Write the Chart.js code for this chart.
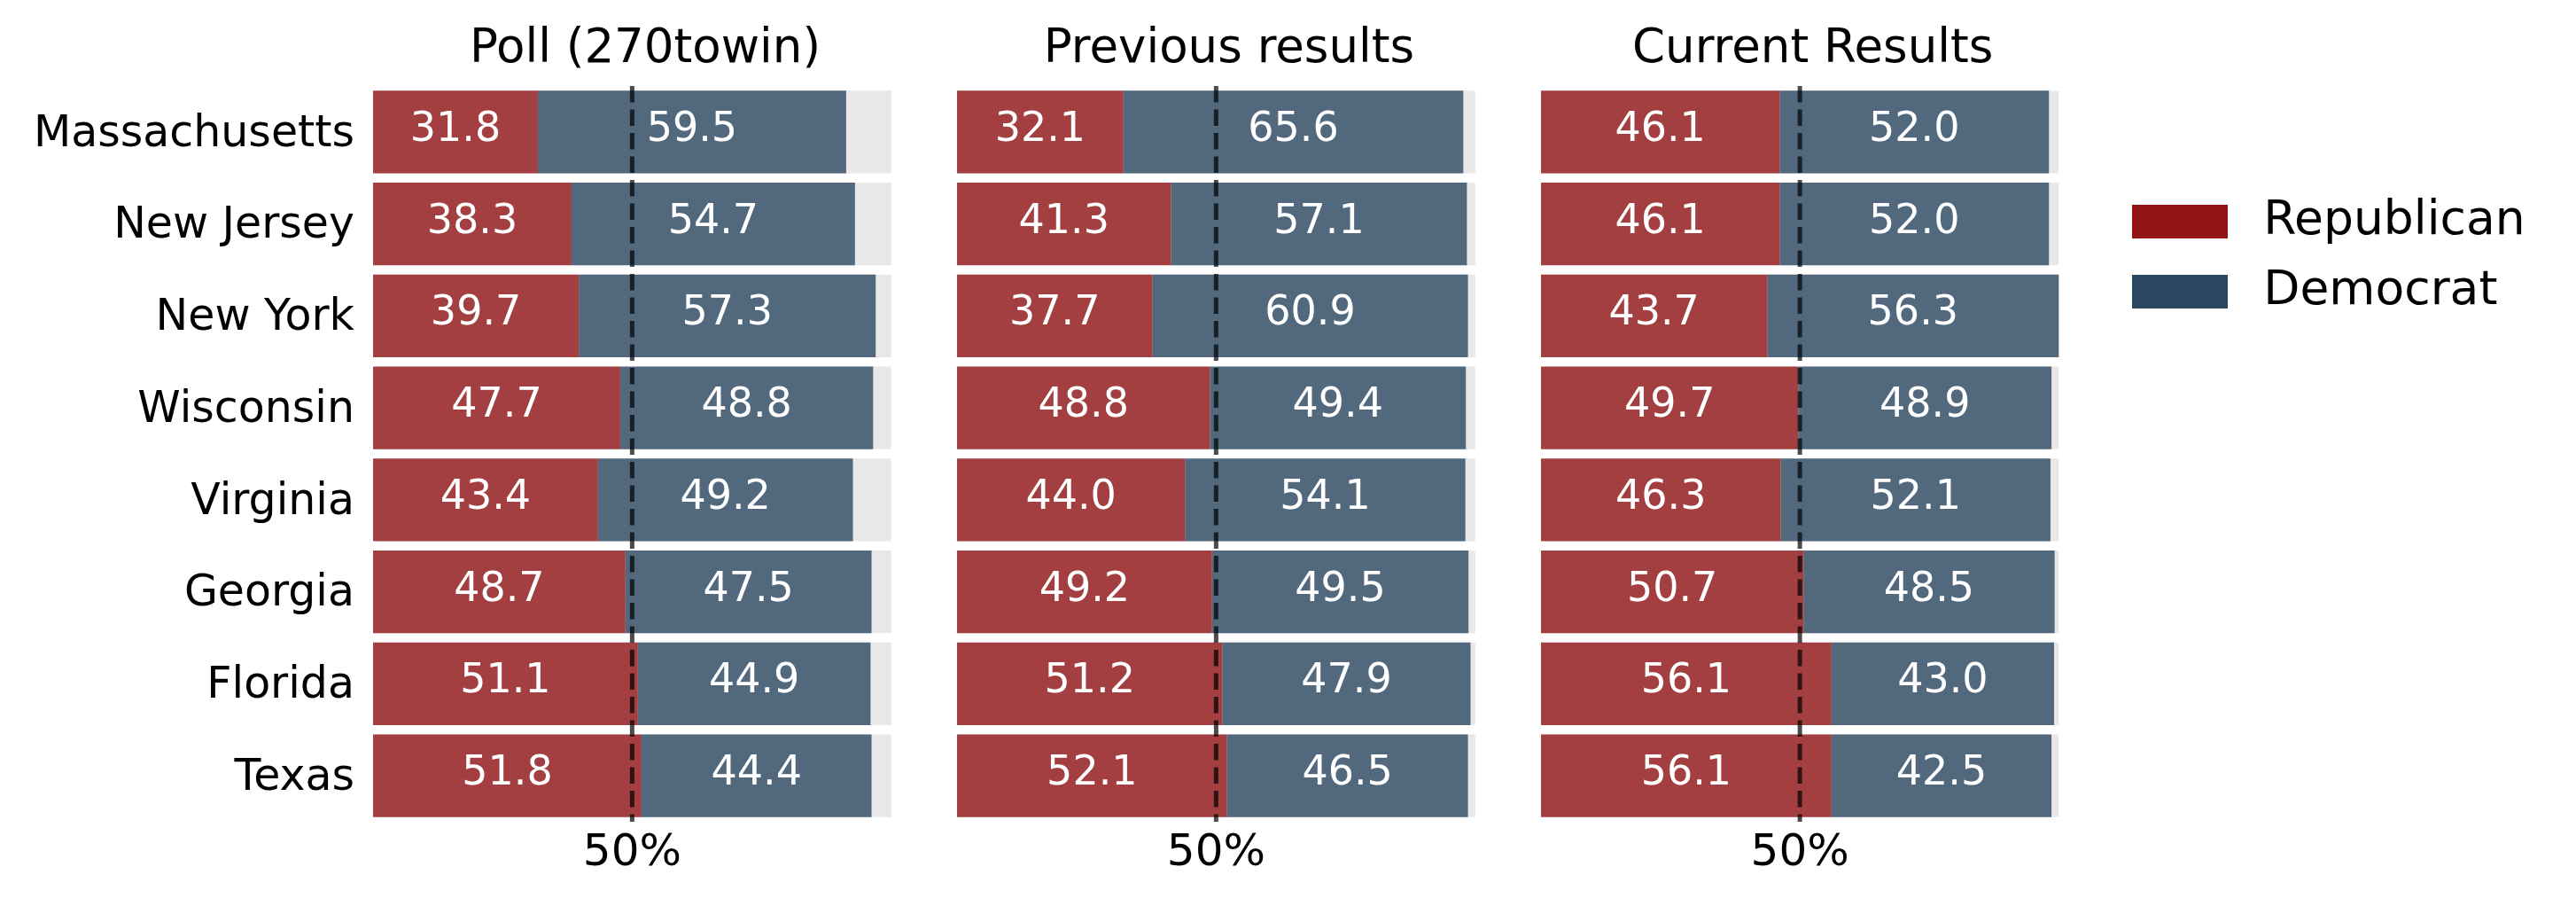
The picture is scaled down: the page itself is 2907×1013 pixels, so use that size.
<!DOCTYPE html>
<html>
<head>
<meta charset="utf-8">
<script src="https://cdn.jsdelivr.net/npm/chart.js@4/dist/chart.umd.min.js"></script>
<style>
  html, body { margin: 0; padding: 0; background: #ffffff; }
  body { width: 2907px; height: 1013px; position: relative; overflow: hidden; }
  canvas { position: absolute; top: 0; }
</style>
</head>
<body>
<canvas id="c1" width="1060" height="1013" style="left:0px"></canvas>
<canvas id="c2" width="659" height="1013" style="left:1060px"></canvas>
<canvas id="c3" width="1188" height="1013" style="left:1719px"></canvas>
<script>
// ---- data ----
const categories = ['Massachusetts', 'New Jersey', 'New York', 'Wisconsin', 'Virginia', 'Georgia', 'Florida', 'Texas'];
const panelTitles = ['Poll (270towin)', 'Previous results', 'Current Results'];
const pollRep = [31.8, 38.3, 39.7, 47.7, 43.4, 48.7, 51.1, 51.8];
const pollDem = [59.5, 54.7, 57.3, 48.8, 49.2, 47.5, 44.9, 44.4];
const prevRep = [32.1, 41.3, 37.7, 48.8, 44.0, 49.2, 51.2, 52.1];
const prevDem = [65.6, 57.1, 60.9, 49.4, 54.1, 49.5, 47.9, 46.5];
const currRep = [46.1, 46.1, 43.7, 49.7, 46.3, 50.7, 56.1, 56.1];
const currDem = [52.0, 52.0, 56.3, 48.9, 52.1, 48.5, 43.0, 42.5];
const fullShare = [100, 100, 100, 100, 100, 100, 100, 100];
const xTicks = [50];
const refLine = 50;
const seriesNames = ['Republican', 'Democrat'];

// ---- styles ----
const FONT = 'DejaVu Sans';
const repSolid = '#911416';
const demSolid = '#2a4762';
const repBar = 'rgba(145,20,22,0.8)';
const demBar = 'rgba(42,71,98,0.8)';
const bgBar = '#e8e8e8';

// legend swatches (108 x 38 patches)
function swatch(color) {
  const c = document.createElement('canvas');
  c.width = 108; c.height = 38;
  const g = c.getContext('2d');
  g.fillStyle = color;
  g.fillRect(0, 0, 108, 38);
  return c;
}
const repSwatch = swatch(repSolid);
const demSwatch = swatch(demSolid);

const midLinePlugin = {
  id: 'midLine',
  afterDatasetsDraw(chart) {
    const {ctx, chartArea, scales} = chart;
    const x = scales.x.getPixelForValue(refLine);
    ctx.save();
    ctx.strokeStyle = 'rgba(0,0,0,0.7)';
    ctx.lineWidth = 5;
    ctx.setLineDash([18.5, 8]);
    ctx.beginPath();
    ctx.moveTo(x, chartArea.top);
    ctx.lineTo(x, chartArea.bottom);
    ctx.stroke();
    ctx.restore();
  }
};

const valueLabelPlugin = {
  id: 'valueLabels',
  afterDatasetsDraw(chart) {
    const {ctx} = chart;
    ctx.save();
    ctx.fillStyle = '#ffffff';
    ctx.font = '46px "' + FONT + '"';
    ctx.textAlign = 'center';
    ctx.textBaseline = 'middle';
    [0, 1].forEach(di => {
      const meta = chart.getDatasetMeta(di);
      const data = chart.data.datasets[di].data;
      meta.data.forEach((el, i) => {
        const cx = (el.x + el.base) / 2;
        ctx.fillText(data[i].toFixed(1), cx, el.y - 2);
      });
    });
    ctx.restore();
  }
};

function makeChart(id, title, rep, dem, opts) {
  const yScale = {
    type: 'category',
    stacked: true,
    position: opts.yPosition,
    display: opts.yDisplay,
    grid: { display: false, drawTicks: false },
    border: { display: false },
    ticks: {
      display: opts.yLabels,
      color: '#000000',
      font: { family: FONT, size: 49 },
      padding: 21,
      labelOffset: 3
    },
    afterFit(scale) { scale.width = opts.yWidth; }
  };
  return new Chart(document.getElementById(id), {
    type: 'bar',
    data: {
      labels: categories,
      datasets: [
        { label: seriesNames[0], data: rep, backgroundColor: repBar, stack: 's', order: 0, grouped: false, borderWidth: 0 },
        { label: seriesNames[1], data: dem, backgroundColor: demBar, stack: 's', order: 0, grouped: false, borderWidth: 0 },
        { label: 'bg', data: fullShare, backgroundColor: bgBar, stack: 'bg', order: 1, grouped: false, borderWidth: 0 }
      ]
    },
    options: {
      indexAxis: 'y',
      responsive: false,
      devicePixelRatio: 1,
      animation: false,
      events: [],
      datasets: { bar: { barPercentage: 0.9, categoryPercentage: 1.0 } },
      layout: { padding: { left: opts.padL, right: opts.padR, top: 0, bottom: 0 } },
      scales: {
        x: {
          type: 'linear',
          stacked: true,
          min: 0,
          max: 105,
          grid: { display: false, drawTicks: false },
          border: { display: false },
          afterBuildTicks(scale) { scale.ticks = xTicks.map(v => ({ value: v })); },
          ticks: {
            color: '#000000',
            font: { family: FONT, size: 50 },
            padding: 6,
            callback: v => v + '%'
          },
          afterFit(scale) { scale.height = 86; }
        },
        y: yScale
      },
      plugins: {
        tooltip: { enabled: false },
        title: {
          display: true,
          text: title,
          fullSize: false,
          color: '#000000',
          font: { family: FONT, size: 53, weight: 'normal' },
          padding: { top: 24.4, bottom: 9 }
        },
        legend: opts.legend ? {
          display: true,
          position: 'right',
          align: 'start',
          maxWidth: 700,
          title: { display: true, text: ' ', font: { size: 1, lineHeight: 1 }, padding: { top: 196, bottom: 0 } },
          labels: {
            usePointStyle: true,
            pointStyleWidth: 136,
            boxHeight: 38,
            padding: 26,
            color: '#000000',
            font: { family: FONT, size: 53.5 },
            generateLabels: () => [
              { text: seriesNames[0], pointStyle: repSwatch, fillStyle: repSolid, strokeStyle: repSolid, fontColor: '#000000', lineWidth: 0, hidden: false, datasetIndex: 0 },
              { text: seriesNames[1], pointStyle: demSwatch, fillStyle: demSolid, strokeStyle: demSolid, fontColor: '#000000', lineWidth: 0, hidden: false, datasetIndex: 1 }
            ]
          }
        } : { display: false }
      }
    },
    plugins: [midLinePlugin, valueLabelPlugin]
  });
}

makeChart('c1', panelTitles[0], pollRep, pollDem, { yPosition: 'left', yDisplay: true, yLabels: true, yWidth: 421, padL: 0, padR: 25, legend: false });
makeChart('c2', panelTitles[1], prevRep, prevDem, { yPosition: 'left', yDisplay: false, yLabels: false, yWidth: 0, padL: 20, padR: 25, legend: false });
makeChart('c3', panelTitles[2], currRep, currDem, { yPosition: 'right', yDisplay: true, yLabels: false, yWidth: 13, padL: 20, padR: 47.4, legend: true });
</script>
</body>
</html>
